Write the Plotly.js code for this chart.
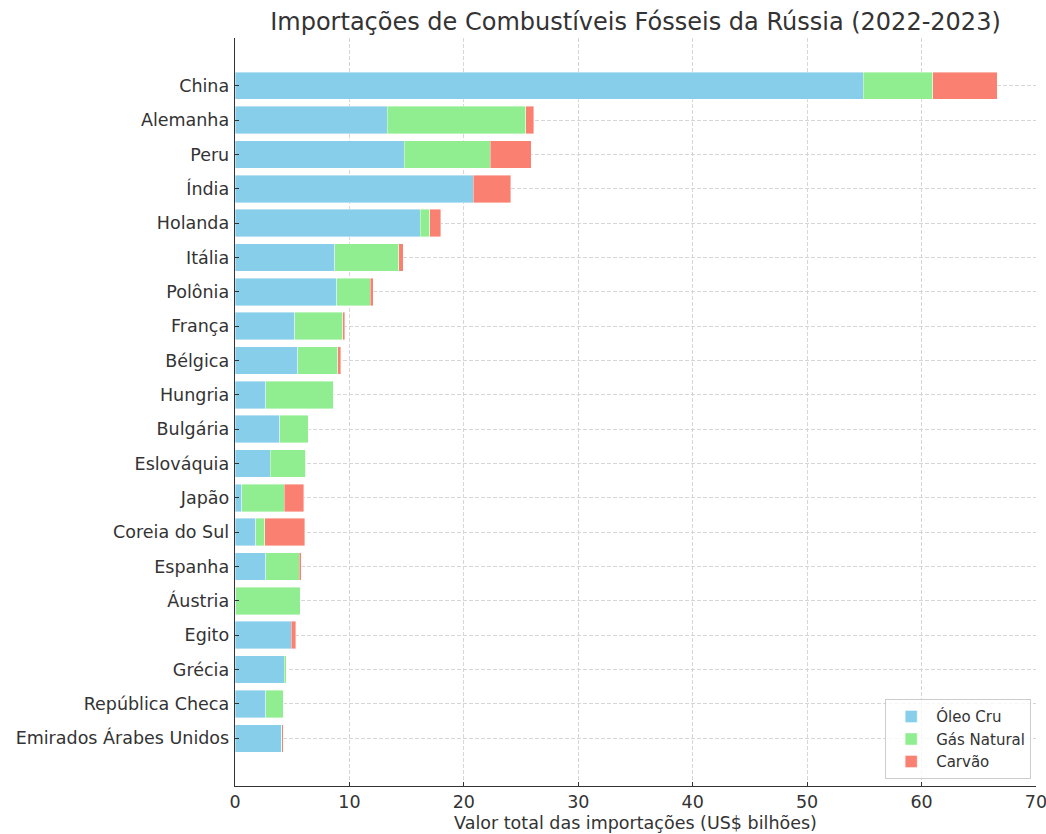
<!DOCTYPE html>
<html>
<head>
<meta charset="utf-8">
<script src="https://cdn.plot.ly/plotly-3.0.1.min.js"></script>
<style>body{margin:0;padding:0;background:#fff;} #chart{width:1046px;height:834px;}</style>
</head>
<body>
<div id="chart"></div>
<script>
const countries = ["China","Alemanha","Peru","Índia","Holanda","Itália","Polônia","França","Bélgica","Hungria","Bulgária","Eslováquia","Japão","Coreia do Sul","Espanha","Áustria","Egito","Grécia","República Checa","Emirados Árabes Unidos"];
const oleoCru =    [54.9, 13.3, 14.8, 20.8, 16.2, 8.7, 8.9, 5.2, 5.5, 2.7, 3.9, 3.1, 0.6, 1.8, 2.7, 0.05, 4.9, 4.3, 2.7, 4.1];
const gasNatural = [6.1, 12.1, 7.5, 0.0, 0.8, 5.6, 2.9, 4.2, 3.5, 5.9, 2.5, 3.1, 3.7, 0.8, 2.9, 5.65, 0.0, 0.2, 1.5, 0.0];
const carvao =     [5.6, 0.7, 3.6, 3.3, 1.0, 0.4, 0.3, 0.2, 0.25, 0.0, 0.0, 0.0, 1.7, 3.5, 0.2, 0.0, 0.4, 0.0, 0.0, 0.1];
const seriesNames = ["Óleo Cru","Gás Natural","Carvão"];
const seriesColors = ["#87CEEB","#90EE90","#FA8072"];
const xTicks = [0,10,20,30,40,50,60,70];

const values = [oleoCru, gasNatural, carvao];
const traces = values.map((v,i)=>({
  type:'bar', orientation:'h', y: countries, x: v, name: seriesNames[i],
  marker:{color: seriesColors[i], line:{color:'rgba(255,255,255,0.5)', width:0.8}},
  width:0.8
}));

const font = {family:'DejaVu Sans, sans-serif', color:'#333333'};
const layout = {
  barmode:'stack',
  width:1046, height:834,
  margin:{l:235, r:10, t:38, b:48},
  paper_bgcolor:'#fff', plot_bgcolor:'#fff',
  font: Object.assign({size:17.5}, font),
  title:{text:'Importações de Combustíveis Fósseis da Rússia (2022-2023)', font:Object.assign({size:24}, font), x:0.5, xref:'paper', xanchor:'center', y:0.974, yref:'container', yanchor:'middle'},
  xaxis:{
    range:[0,70.002], tickvals:xTicks, ticktext:xTicks.map(String),
    showgrid:true, gridcolor:'#d6d6d6', griddash:'4px,2px', gridwidth:1,
    zeroline:false, showline:true, linecolor:'#333333', linewidth:1.3,
    ticks:'inside', ticklen:4, tickcolor:'#333333', ticklabeloverflow:'allow',
    tickfont:Object.assign({size:17.5}, font),
    title:{text:'Valor total das importações (US$ bilhões)', font:Object.assign({size:17.5}, font), standoff:5}
  },
  yaxis:{
    type:'category', categoryorder:'array', categoryarray:countries,
    range:[20.39,-1.39],
    showgrid:true, gridcolor:'#d6d6d6', griddash:'4px,2px', gridwidth:1,
    zeroline:false, showline:true, linecolor:'#333333', linewidth:1.3,
    ticks:'inside', ticklen:4, tickcolor:'#333333',
    tickfont:Object.assign({size:17.5}, font), ticklabelstandoff:1
  },
  legend:{x:0.994, y:0.009, xanchor:'right', yanchor:'bottom', bgcolor:'rgba(255,255,255,0.8)', bordercolor:'#cccccc', borderwidth:1, font:Object.assign({size:15}, font), traceorder:'normal', itemwidth:40},
  showlegend:true
};
Plotly.newPlot('chart', traces, layout, {staticPlot:true, displayModeBar:false});
</script>
</body>
</html>
